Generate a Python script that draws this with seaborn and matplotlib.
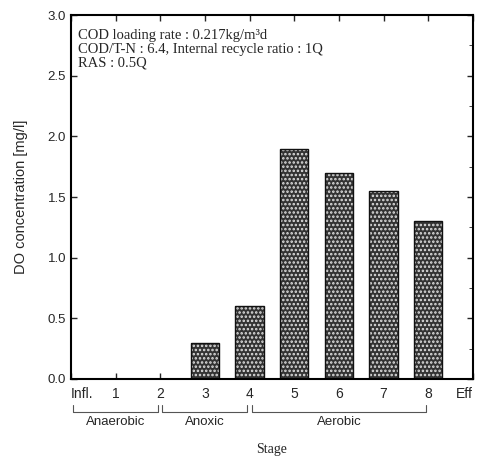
import matplotlib
matplotlib.use("Agg")
import matplotlib.pyplot as plt
from matplotlib.patches import Rectangle
import seaborn as sns
import pandas as pd
import numpy as np

stages = ["Infl.", "1", "2", "3", "4", "5", "6", "7", "8", "Eff"]
do_values = [0.0, 0.0, 0.0, 0.3, 0.6, 1.9, 1.7, 1.55, 1.3, 0.0]
zones = ["Anaerobic", "Anoxic", "Aerobic"]
zone_bounds = [(0, 2), (2, 4), (4, 8)]
notes = ["COD loading rate : 0.217kg/m\u00b3d",
         "COD/T-N : 6.4, Internal recycle ratio : 1Q",
         "RAS : 0.5Q"]
yticks = [0.0, 0.5, 1.0, 1.5, 2.0, 2.5, 3.0]

sns.set_style("ticks")
plt.rcParams["font.family"] = ["Liberation Sans", "DejaVu Sans"]
plt.rcParams["hatch.linewidth"] = 1.2

df = pd.DataFrame({"stage": stages, "do": do_values})

fig = plt.figure(figsize=(4.82, 4.58), dpi=100)
ax = fig.add_axes([0.147, 0.1725, 0.834, 0.7945])

sns.barplot(data=df, x="stage", y="do", order=stages, color="#333333",
            width=0.63, ax=ax, saturation=1)
for p in list(ax.patches):
    p.set_hatch("....")
    p.set_edgecolor("#e0e0e0")
    p.set_linewidth(0)
    ax.add_patch(Rectangle(p.get_xy(), p.get_width(), p.get_height(),
                           fill=False, edgecolor="#111111", linewidth=1.0, zorder=p.get_zorder() + 0.1))

ax.set_xlim(0, 9)
ax.set_ylim(0, 3.0)
ax.set_yticks(yticks)
ax.set_yticklabels([f"{v:.1f}" for v in yticks], fontsize=9.5)
ax.set_yticks(np.arange(0, 3.01, 0.25), minor=True)
ax.set_xticks(range(10))
labels = ax.set_xticklabels(stages, fontsize=10)
labels[0].set_horizontalalignment("left")
labels[-1].set_horizontalalignment("right")
ax.tick_params(axis="both", direction="in", top=True, right=True, length=4, width=1)
ax.tick_params(axis="y", which="minor", direction="in", left=False, right=True, length=3)
ax.tick_params(axis="x", pad=6)
for s in ax.spines.values():
    s.set_linewidth(1.5)
    s.set_color("black")

ax.set_xlabel("")
ax.text(0.5, -0.195, "Stage", transform=ax.transAxes, ha="center", va="center",
        family="Liberation Serif", fontsize=10)
ax.set_ylabel("DO concentration [mg/l]", fontsize=10.5, labelpad=14)

trans = ax.get_xaxis_transform()
for name, (a, b) in zip(zones, zone_bounds):
    x0, x1 = a + 0.05, b - 0.05
    ax.plot([x0, x0, x1, x1], [-0.072, -0.09, -0.09, -0.072], transform=trans,
            color="#555555", lw=0.8, clip_on=False)
    ax.text((a + b) / 2, -0.118, name, transform=trans, ha="center", va="center",
            fontsize=9.5, clip_on=False)

ax.text(0.017, 0.962, "\n".join(notes), transform=ax.transAxes, ha="left", va="top",
        family="Liberation Serif", fontsize=10.5, linespacing=1.08)

fig.savefig("out.png", dpi=100)
